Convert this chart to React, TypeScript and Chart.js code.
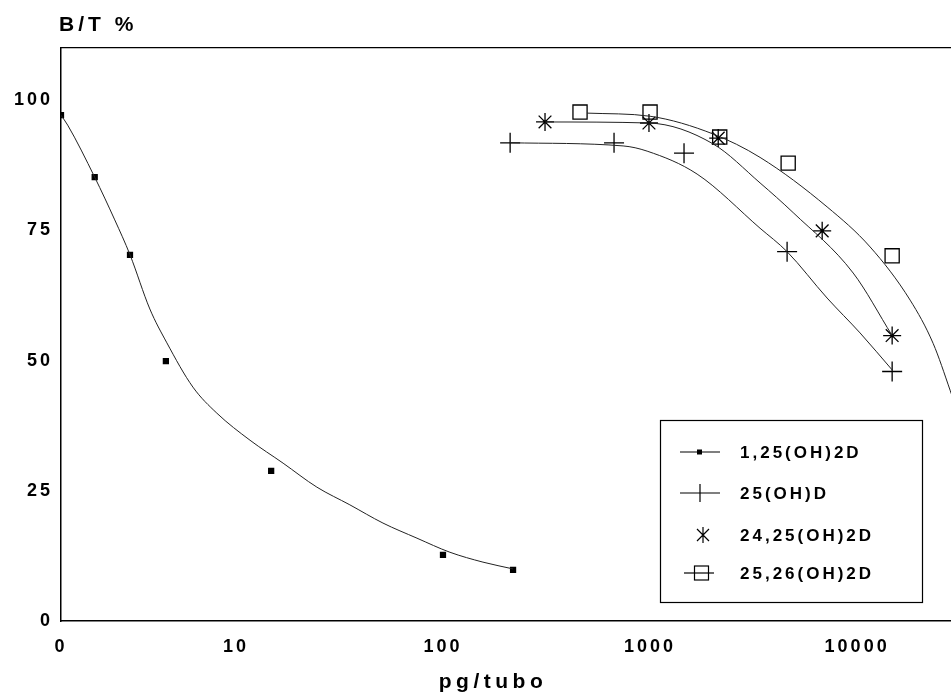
import React, { useEffect, useRef } from 'react';
import { Chart, registerables } from 'chart.js';

Chart.register(...registerables);

// ---- axis definitions ----
const X_ZERO = 1.43; // where the "0" dose sits on the log axis
const X_MAX = 28400;
const xTickValues = [X_ZERO, 10, 100, 1000, 10000];
const xTickLabels = ['0', '10', '100', '1000', '10000'];
const Y_MAX = 110;
const yTickValues = [0, 25, 50, 75, 100];

const seriesNames = ['1,25(OH)2D', '25(OH)D', '24,25(OH)2D', '25,26(OH)2D'];

// ---- 1,25(OH)2D ----
const dose125 = [X_ZERO, 2.08, 3.08, 4.59, 14.8, 100, 218];
const bt125 = [97.1, 85.2, 70.3, 49.9, 28.8, 12.7, 9.8];
const fitDose125 = [X_ZERO, 1.54, 2.08, 2.6, 3.08, 3.84, 4.64, 6.2, 8.09, 11.7, 16.9, 24.6, 35.5, 51.3, 74.9, 108, 156, 218];
const fitBt125 = [97.1, 95.2, 85.2, 77.0, 70.3, 59.9, 53.4, 44.9, 39.9, 34.7, 30.3, 25.7, 22.3, 18.8, 15.9, 13.2, 11.3, 10.0];

// ---- 25(OH)D ----
const dose25 = [211, 670, 1459, 4590, 14760];
const bt25 = [91.8, 91.8, 89.8, 70.9, 47.9];
const fitDose25 = [211, 741, 968, 1687, 3398, 4590, 7161, 10330, 14760];
const fitBt25 = [91.8, 91.2, 90.2, 85.8, 75.4, 70.9, 62.0, 55.3, 48.2];

// ---- 24,25(OH)2D ----
const dose2425 = [311, 988, 2134, 6780, 14760];
const bt2425 = [95.8, 95.6, 92.7, 74.9, 54.8];
const fitDose2425 = [311, 988, 2014, 3398, 4909, 9572, 14760];
const fitBt2425 = [95.8, 95.6, 91.6, 84.1, 78.4, 66.8, 54.8];

// ---- 25,26(OH)2D ----
const dose2526 = [459, 1000, 2170, 4645, 14760];
const bt2526 = [97.7, 97.7, 92.9, 87.9, 70.1];
const fitDose2526 = [497, 1000, 2014, 3398, 7161, 11560, 18030, 23280, 28120, 33270];
const fitBt2526 = [97.5, 96.9, 93.5, 89.0, 79.5, 71.8, 61.6, 53.3, 44.3, 35.7];

const FONT = '"Liberation Sans", Arial, Helvetica, sans-serif';
const LINE_COLOR = '#222';

const pts = (xs: number[], ys: number[]) => xs.map((x, i) => ({ x, y: ys[i] }));

const fitDataset = (label: string, xs: number[], ys: number[]) => ({
  label,
  data: pts(xs, ys),
  showLine: true,
  borderColor: LINE_COLOR,
  borderWidth: 1,
  pointRadius: 0,
  cubicInterpolationMode: 'monotone' as const,
  fill: false,
});

const pointDataset = (label: string, xs: number[], ys: number[], style: string, radius: number, fillColor: string) => ({
  label,
  data: pts(xs, ys),
  showLine: false,
  pointStyle: style,
  pointRadius: radius,
  pointBorderColor: '#000',
  pointBackgroundColor: fillColor,
  pointBorderWidth: 1.3,
});

const zeroPadding = (scale: any) => {
  scale.paddingLeft = 0;
  scale.paddingRight = 0;
  scale.paddingTop = 0;
  scale.paddingBottom = 0;
};

const decorPlugin = {
  id: 'decor',
  beforeLayout(chart: any) {
    chart.ctx.letterSpacing = '3px';
  },
  beforeDraw(chart: any) {
    chart.ctx.letterSpacing = '3px';
  },
  afterDraw(chart: any) {
    const ctx = chart.ctx as CanvasRenderingContext2D & { letterSpacing?: string };
    const { left, top, bottom } = chart.chartArea;
    ctx.save();
    ctx.fillStyle = '#000';
    ctx.strokeStyle = '#000';

    // axis titles
    ctx.font = `bold 21px ${FONT}`;
    ctx.letterSpacing = '4px';
    ctx.textAlign = 'left';
    ctx.textBaseline = 'middle';
    ctx.fillText('B/T %', left - 2, top - 23);
    ctx.textAlign = 'center';
    ctx.textBaseline = 'alphabetic';
    ctx.letterSpacing = '4.5px';
    ctx.fillText('pg/tubo', 493, bottom + 67);

    // legend box
    const bx = 660.5, by = 420.5, bw = 262, bh = 182;
    ctx.fillStyle = '#fff';
    ctx.fillRect(bx, by, bw, bh);
    ctx.lineWidth = 1.2;
    ctx.strokeRect(bx, by, bw, bh);
    ctx.fillStyle = '#000';

    const rows = [452, 493, 535, 573];
    ctx.lineWidth = 1.2;
    // row 1: line with dot
    ctx.beginPath();
    ctx.moveTo(680, rows[0]); ctx.lineTo(720, rows[0]);
    ctx.stroke();
    ctx.fillRect(697, rows[0] - 2.5, 5, 5);
    // row 2: line with cross
    ctx.beginPath();
    ctx.moveTo(680, rows[1]); ctx.lineTo(720, rows[1]);
    ctx.moveTo(700, rows[1] - 9); ctx.lineTo(700, rows[1] + 9);
    ctx.stroke();
    // row 3: asterisk
    ctx.beginPath();
    const ax = 703, ay = rows[2], r = 8;
    ctx.moveTo(ax, ay - r); ctx.lineTo(ax, ay + r);
    ctx.moveTo(ax - 6, ay - 6); ctx.lineTo(ax + 6, ay + 6);
    ctx.moveTo(ax - 6, ay + 6); ctx.lineTo(ax + 6, ay - 6);
    ctx.stroke();
    // row 4: square with short line
    ctx.beginPath();
    ctx.moveTo(684, rows[3]); ctx.lineTo(714, rows[3]);
    ctx.stroke();
    ctx.strokeRect(694.5, rows[3] - 7, 14, 14);

    ctx.font = `bold 17px ${FONT}`;
    ctx.letterSpacing = '3px';
    ctx.textAlign = 'left';
    ctx.textBaseline = 'middle';
    seriesNames.forEach((name, i) => ctx.fillText(name, 740, rows[i] + 1));

    ctx.restore();
  },
};

export default function App() {
  const canvasRef = useRef<HTMLCanvasElement | null>(null);

  useEffect(() => {
    if (!canvasRef.current) return;
    const chart = new Chart(canvasRef.current, {
      type: 'scatter',
      data: {
        datasets: [
          fitDataset(seriesNames[0] + ' fit', fitDose125, fitBt125),
          fitDataset(seriesNames[1] + ' fit', fitDose25, fitBt25),
          fitDataset(seriesNames[2] + ' fit', fitDose2425, fitBt2425),
          fitDataset(seriesNames[3] + ' fit', fitDose2526, fitBt2526),
          pointDataset(seriesNames[0], dose125, bt125, 'rect', 3.5, '#000'),
          pointDataset(seriesNames[1], dose25, bt25, 'cross', 10, 'rgba(0,0,0,0)'),
          pointDataset(seriesNames[2], dose2425, bt2425, 'star', 9, 'rgba(0,0,0,0)'),
          pointDataset(seriesNames[3], dose2526, bt2526, 'rect', 10, 'rgba(0,0,0,0)'),
        ] as any,
      },
      options: {
        animation: false,
        responsive: false,
        devicePixelRatio: 1,
        layout: { autoPadding: false, padding: { top: 48, right: 0, bottom: 0, left: 0 } },
        plugins: {
          legend: { display: false },
          tooltip: { enabled: false },
          title: { display: false },
        },
        scales: {
          x: {
            type: 'logarithmic',
            position: 'bottom',
            min: X_ZERO,
            max: X_MAX,
            grid: { display: false, drawTicks: false },
            border: { display: true, color: '#000', width: 1.5 },
            afterBuildTicks: (scale: any) => {
              scale.ticks = xTickValues.map((v) => ({ value: v }));
            },
            afterFit: (scale: any) => {
              scale.height = 73;
              zeroPadding(scale);
            },
            ticks: {
              autoSkip: false,
              maxRotation: 0,
              padding: 15,
              color: '#000',
              font: { family: FONT, size: 18, weight: 'bold' },
              callback: (value: any) => {
                const i = xTickValues.findIndex((v) => Math.abs(v - value) < 1e-6);
                return i >= 0 ? xTickLabels[i] : '';
              },
            },
          },
          x2: {
            type: 'linear',
            position: 'top',
            min: 0,
            max: 1,
            grid: { display: false, drawTicks: false },
            border: { display: true, color: '#000', width: 1.2 },
            ticks: { display: false },
            afterFit: (scale: any) => {
              scale.height = 0;
              zeroPadding(scale);
            },
          },
          y: {
            type: 'linear',
            position: 'left',
            min: 0,
            max: Y_MAX,
            grid: { display: false, drawTicks: false },
            border: { display: true, color: '#000', width: 1.5 },
            afterBuildTicks: (scale: any) => {
              scale.ticks = yTickValues.map((v) => ({ value: v }));
            },
            afterFit: (scale: any) => {
              scale.width = 61;
              zeroPadding(scale);
            },
            ticks: {
              padding: 8,
              color: '#000',
              font: { family: FONT, size: 18, weight: 'bold' },
              callback: (value: any) => String(value),
            },
          },
        },
      } as any,
      plugins: [decorPlugin as any],
    });
    return () => chart.destroy();
  }, []);

  return (
    <div style={{ position: 'absolute', left: 0, top: 0, width: 951, height: 694, background: '#fff' }}>
      <canvas ref={canvasRef} width={951} height={694} style={{ display: 'block' }} />
    </div>
  );
}
